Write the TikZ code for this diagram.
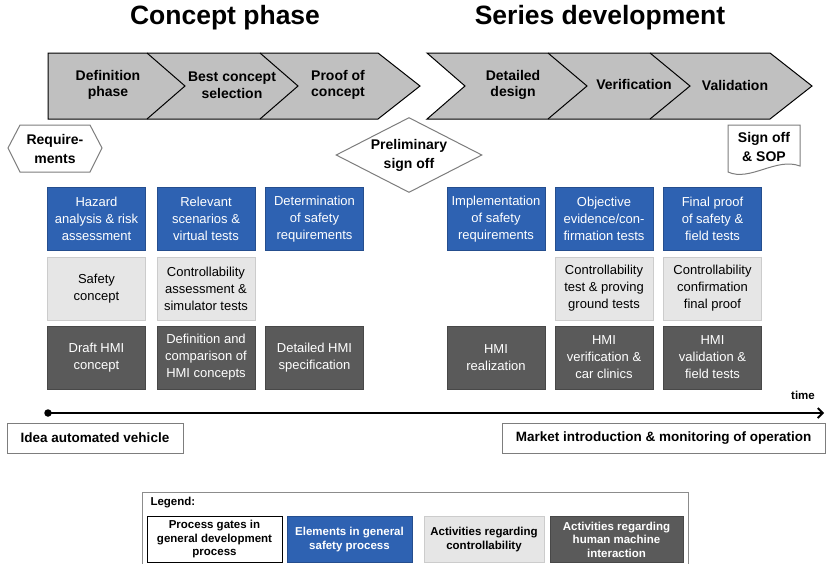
\documentclass[tikz,border=0pt]{standalone}
\usepackage{fontspec}
\setmainfont{Liberation Sans}
\usepackage{xcolor}
\usepackage{tikz}
\definecolor{safetyBlue}{RGB}{46, 98, 178}
\definecolor{hmiGray}{RGB}{90, 90, 90}
\definecolor{controlGray}{RGB}{230, 230, 230}
\definecolor{phaseGray}{RGB}{192, 192, 192}
\definecolor{gateGray}{RGB}{125, 125, 125}
\usetikzlibrary{shapes.geometric, arrows.meta}

\tikzset{
    phase/.style={draw=black, line width=1pt, fill=phaseGray, line join=miter},
    phaselabel/.style={font=\fontsize{14}{16.7}\selectfont\bfseries, align=center},
    title/.style={font=\fontsize{26.5}{30}\selectfont\bfseries},
    gate/.style={draw=gateGray, line width=1pt, fill=white},
    gatelabel/.style={font=\fontsize{14}{19}\selectfont\bfseries, align=center},
    activity/.style={rectangle, minimum width=98pt, minimum height=63pt,
        inner sep=1pt, align=center, line width=0.6pt,
        font=\fontsize{13}{17}\selectfont},
    safety/.style={activity, fill=safetyBlue, draw=safetyBlue!80!black, text=white},
    control/.style={activity, fill=controlGray, draw=black!20, text=black},
    hmi/.style={activity, fill=hmiGray, draw=hmiGray!80!black, text=white},
    milestone/.style={rectangle, draw=gateGray, line width=1pt, fill=white,
        minimum height=30pt, font=\fontsize{13.5}{16}\selectfont\bfseries},
    legendbox/.style={rectangle, minimum height=46pt, inner sep=1pt, align=center,
        line width=0.8pt, font=\fontsize{11.5}{13.5}\selectfont\bfseries}
}

\begin{document}
\begin{tikzpicture}[x=1pt, y=-1pt]
    \useasboundingbox (0,0) rectangle (826,563);

    % phase titles
    \node[title] (concept) at (225,18) {Concept phase};
    \node[title] (series) at (600,18) {Series development};

    % chevrons
    \draw[phase] (48,53) -- (378,53) -- (420,86) -- (378,119) -- (48,119) -- cycle;
    \draw[line width=1pt] (147,53) -- (185,86) -- (147,119);
    \draw[line width=1pt] (260,53) -- (298,86) -- (260,119);
    \draw[phase] (427,53) -- (770,53) -- (812,86) -- (770,119) -- (427,119) -- (465,86) -- cycle;
    \draw[line width=1pt] (548,53) -- (587,86) -- (548,119);
    \draw[line width=1pt] (650,53) -- (690,86) -- (650,119);

    \node[phaselabel] (definition) at (108,85) {Definition\\phase};
    \node[phaselabel] (bestconcept) at (232,85) {Best concept\\selection};
    \node[phaselabel] (proof) at (338,85) {Proof of\\concept};
    \node[phaselabel] (detailed) at (513,85) {Detailed\\design};
    \node[phaselabel] (verification) at (634,84) {Verification};
    \node[phaselabel] (validation) at (735,85) {Validation};

    % process gates
    \draw[gate] (8,148) -- (20,125) -- (90,125) -- (102,148) -- (90,172) -- (20,172) -- cycle;
    \node[gatelabel] (requirements) at (55,149) {Require-\\ments};
    \node[
        diamond,
        gate,
        aspect=1.95,
        minimum width=146pt,
        minimum height=75pt,
        inner sep=0pt,
        gatelabel
    ] (prelim) at (409,155) {Preliminary\\sign off};
    \draw[gate] (728,125) -- (800,125) -- (800,166)
        .. controls (776,157) and (750,182) .. (728,172) -- cycle;
    \node[gatelabel] (signoff) at (764,147) {Sign off\\\& SOP};

    % activities
    \node[safety] (hazard) at (96.5,219) {Hazard\\analysis \& risk\\assessment};
    \node[safety] (scenarios) at (206,219) {Relevant\\scenarios \&\\virtual tests};
    \node[safety] (determination) at (314.5,219) {Determination\\of safety\\requirements};
    \node[safety] (implementation) at (496,219) {Implementation\\of safety\\requirements};
    \node[safety] (evidence) at (604,219) {Objective\\evidence/con-\\firmation tests};
    \node[safety] (finalproof) at (712.5,219) {Final proof\\of safety \&\\field tests};

    \node[control] (safetyconcept) at (96.5,288.5) {Safety\\concept};
    \node[control] (simulator) at (206,288.5) {Controllability\\assessment \&\\simulator tests};
    \node[control] (proving) at (604,288.5) {Controllability\\test \& proving\\ground tests};
    \node[control] (confirmation) at (712.5,288.5) {Controllability\\confirmation\\final proof};

    \node[hmi] (drafthmi) at (96.5,357.5) {Draft HMI\\concept};
    \node[hmi] (comparison) at (206,357.5) {Definition and\\comparison of\\HMI concepts};
    \node[hmi] (specification) at (314.5,357.5) {Detailed HMI\\specification};
    \node[hmi] (realization) at (496,357.5) {HMI\\realization};
    \node[hmi] (clinics) at (604,357.5) {HMI\\verification \&\\car clinics};
    \node[hmi] (fieldtests) at (712.5,357.5) {HMI\\validation \&\\field tests};

    % time axis
    \node[circle, fill=black, inner sep=0pt, minimum size=7.5pt] (tstart) at (48,413) {};
    \coordinate (tend) at (824,413);
    \draw[line width=1.8pt, -{Straight Barb[length=5pt, width=10pt]}] (tstart.center) -- (tend);
    \node[font=\fontsize{11.5}{13}\selectfont\bfseries] (time) at (803,395) {time};

    \node[milestone, minimum width=176pt] (idea) at (95,438) {Idea automated vehicle};
    \node[milestone, minimum width=323pt] (market) at (663.5,438) {Market introduction \& monitoring of operation};

    % legend
    \draw[draw=black!45, line width=0.8pt] (142,492) rectangle (688,570);
    \node[anchor=west, font=\fontsize{11.5}{13}\selectfont\bfseries] (legend) at (147,503) {Legend:};
    \node[legendbox, draw=black, fill=white, minimum width=135pt] (lgates) at (214.5,539.5)
        {Process gates in\\general development\\process};
    \node[legendbox, draw=safetyBlue!80!black, fill=safetyBlue, text=white, minimum width=125pt] (lsafety) at (349.5,539.5)
        {Elements in general\\safety process};
    \node[legendbox, draw=black!20, fill=controlGray, minimum width=120pt] (lcontrol) at (484,539.5)
        {Activities regarding\\controllability};
    \node[legendbox, draw=hmiGray!80!black, fill=hmiGray, text=white, minimum width=133pt] (lhmi) at (616.5,539.5)
        {Activities regarding\\human machine\\interaction};
\end{tikzpicture}
\end{document}
